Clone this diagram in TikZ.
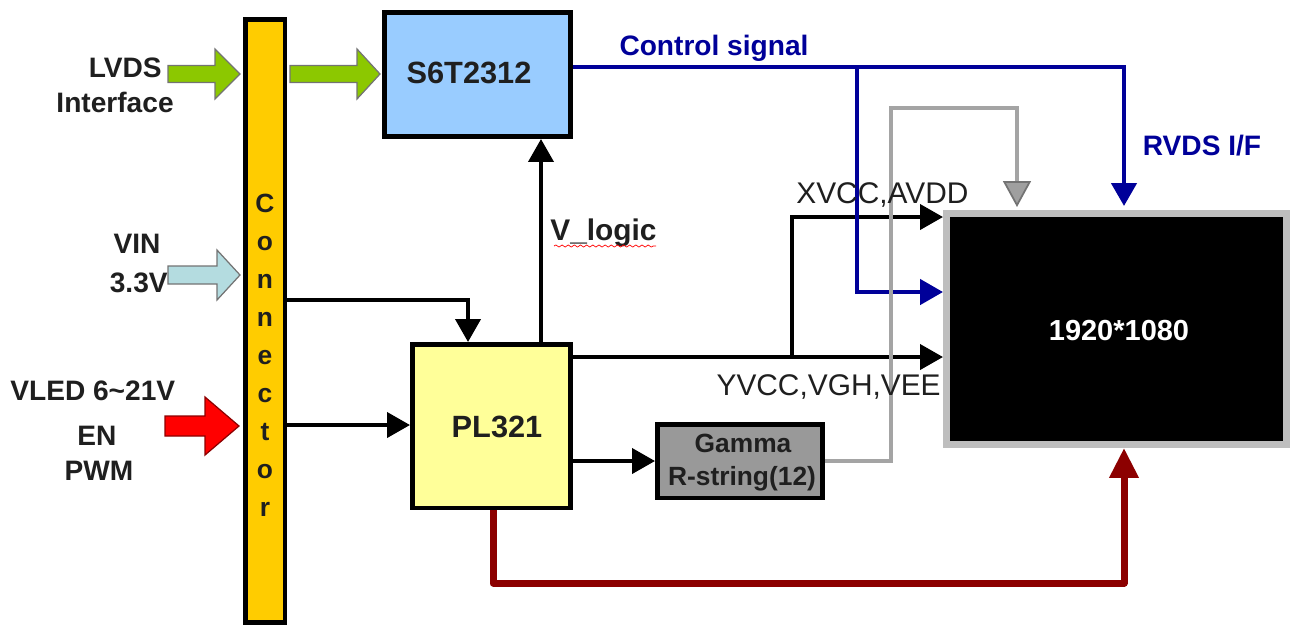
\documentclass[tikz,border=0pt]{standalone}
\usepackage{fontspec}
\setmainfont{Liberation Sans}
\usetikzlibrary{arrows.meta,decorations.pathmorphing}
\definecolor{connfill}{HTML}{FFCC00}
\definecolor{s6fill}{HTML}{99CCFF}
\definecolor{plfill}{HTML}{FFFF99}
\definecolor{gamfill}{HTML}{999999}
\definecolor{navy}{HTML}{000099}
\definecolor{dred}{HTML}{8C0000}
\definecolor{gline}{HTML}{A4A4A4}
\definecolor{frame}{HTML}{BEBEBE}
\definecolor{agreen}{HTML}{8CC800}
\definecolor{ablue}{HTML}{B4DCE0}
\newcommand\fsz[1]{\fontsize{#1}{#1}\selectfont}
\newcommand\blockarr[7]{%
  \filldraw[#7] (#1,#4-#5) -- (#2,#4-#5) -- (#2,#4-#6) -- (#3,#4) -- (#2,#4+#6) -- (#2,#4+#5) -- (#1,#4+#5) -- cycle;}
\begin{document}
\begin{tikzpicture}[x=0.02cm,y=-0.02cm,
  box/.style={draw=black, line width=0.09cm, inner sep=0pt, font=\bfseries\fsz{17}},
  lbl/.style={font=\bfseries\fsz{16}, inner sep=0pt, text=black!88},
  wire/.style={line width=0.08cm, -{Triangle[length=0.46cm,width=0.5cm]}},
  bluewire/.style={line width=0.09cm, draw=navy, -{Triangle[length=0.46cm,width=0.5cm]}},
  redwire/.style={line width=0.14cm, draw=dred, line join=round, -{Triangle[length=0.6cm,width=0.56cm]}},
  greywire/.style={line width=0.09cm, draw=gline, -{Triangle[length=0.52cm,width=0.56cm,fill=gray!75,color=black!55,line width=1pt]}}
]
\useasboundingbox (0,0) rectangle (1291,627);

% blocks
\node[box, fill=connfill, minimum width=0.79cm, minimum height=12.07cm] (conn) at (265,321) {};
\node[box, fill=s6fill, minimum width=3.73cm, minimum height=2.49cm] (S6T) at (477.5,74.5) {};
\node[box, fill=plfill, minimum width=3.17cm, minimum height=3.27cm] (PL) at (491.5,426) {};
\node[box, fill=gamfill, minimum width=3.31cm, minimum height=1.47cm] (gamma) at (740,461) {};
\node[draw=frame, fill=black, line width=0.14cm, inner sep=0pt, minimum width=6.8cm, minimum height=4.62cm] (panel) at (1116.5,329) {};

% block texts
\node[lbl, font=\bfseries\fsz{17.5}, anchor=base] (t1) at (469,83) {S6T2312};
\node[lbl, font=\bfseries\fsz{17.5}, anchor=base] (t2) at (497,437) {PL321};
\node[lbl, font=\bfseries\fsz{15}, anchor=base] (t3) at (743,452) {Gamma};
\node[lbl, font=\bfseries\fsz{15}, anchor=base] (t4) at (742,485) {R-string(12)};
\node[lbl, font=\bfseries\fsz{16.5}, text=white, anchor=base] (t5) at (1119,340) {1920*1080};

% connector letters
\foreach \l [count=\i] in {C,o,n,n,e,c,t,o,r}
  \node[lbl, font=\bfseries\fsz{15}, anchor=base] (cl\i) at (265,{212+(\i-1)*38.1}) {\l};

% block arrows (inputs)
\blockarr{168}{215}{240}{74}{8.5}{25}{fill=agreen, draw=black!55, line width=0.7pt}
\blockarr{290}{357}{380}{74}{8.5}{25}{fill=agreen, draw=black!55, line width=0.7pt}
\blockarr{168}{217}{240}{275}{9}{25}{fill=ablue, draw=black!55, line width=0.7pt}
\blockarr{165}{205}{239}{426}{10}{29}{fill=red, draw=dred, line width=0.7pt}

% input labels
\node[lbl, anchor=base east] (lv1) at (162,77) {LVDS};
\node[lbl, anchor=base east] (lv2) at (174,112) {Interface};
\node[lbl, anchor=base] (vin1) at (137,253) {VIN};
\node[lbl, anchor=base east] (vin2) at (168,292) {3.3V};
\node[lbl, anchor=base west] (vl1) at (10,400) {VLED 6\char`~21V};
\node[lbl, anchor=base] (vl2) at (97,445) {EN};
\node[lbl, anchor=base] (vl3) at (99,480) {PWM};

% free ends
\coordinate (rvin) at (1124,206);
\coordinate (gtip) at (1017,207);

% wires
\draw[wire] (conn.east |- 0,300) -| (PL.north -| 468,0);
\draw[wire] (conn.east |- 0,425) -- (PL.west |- 0,425);
\draw[wire] (PL.north -| 541,0) -- (S6T.south -| 541,0);
\draw[wire] (PL.east |- 0,357) -- (panel.west |- 0,357);
\draw[wire] (792,357) |- (panel.west |- 0,217);
\draw[wire] (PL.east |- gamma.west) -- (gamma.west);
\draw[bluewire] (S6T.east |- 0,67) -| (rvin);
\draw[bluewire] (857,67) |- (panel.west |- 0,292);
\draw[greywire] (gamma.east) -| (891,108) -| (gtip);
\draw[redwire] (PL.south -| 493,0) |- (1124,583) -- (panel.south -| 1124,0);

% wire labels
\node[lbl, text=navy, anchor=base] (cs) at (714,55) {Control signal};
\node[lbl, text=navy, anchor=base] (rv) at (1202,155) {RVDS I/F};
\node[lbl, font=\fsz{17}, anchor=base west] (xv) at (796,203) {XVCC,AVDD};
\node[lbl, font=\fsz{17}, anchor=base east] (yv) at (941,395) {YVCC,VGH,VEE};
\node[lbl, font=\bfseries\fsz{17}, anchor=base west] (vlog) at (550,240) {V\_logic};
\draw[red, line width=0.4pt, decorate, decoration={snake, amplitude=0.6pt, segment length=3.5pt}] (554,246) -- (656,246);
\end{tikzpicture}
\end{document}
